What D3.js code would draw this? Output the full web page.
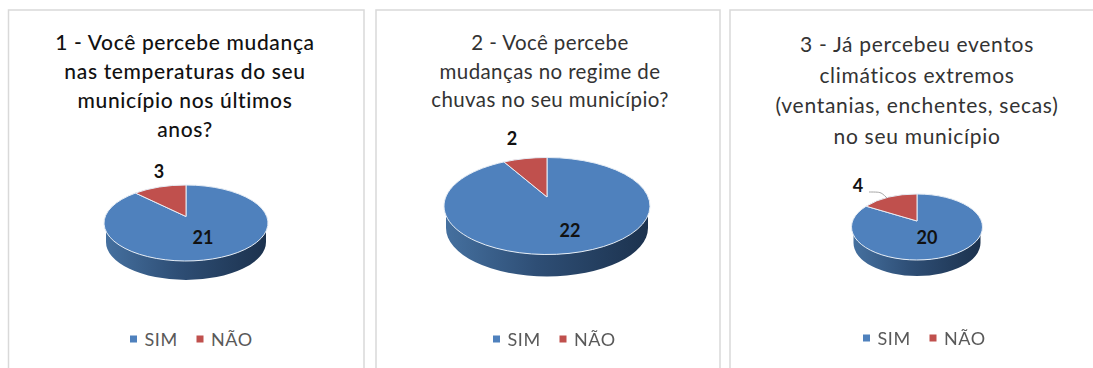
<!DOCTYPE html>
<html>
<head>
<meta charset="utf-8">
<script src="https://cdn.jsdelivr.net/npm/d3@7"></script>
<style>
  html, body { margin: 0; padding: 0; background: #fff; overflow: hidden; }
  svg { display: block; font-family: Lato, sans-serif; filter: blur(0.55px); }
</style>
</head>
<body>
<script>
// Values
const categories = ["SIM", "NÃO"];
const values1 = [21, 3];
const values2 = [22, 2];
const values3 = [20, 4];
const titles1 = ["1 - Você percebe mudança", "nas temperaturas do seu", "município nos últimos", "anos?"];
const titles2 = ["2 - Você percebe", "mudanças no regime de", "chuvas no seu município?"];
const titles3 = ["3 - Já percebeu eventos", "climáticos extremos", "(ventanias, enchentes, secas)", "no seu município"];

const w = 1093;
const h = 368;
const color = d3.scaleOrdinal().domain(categories).range(["#4f81bd", "#c0504d"]);

// Where each panel sits on the page
const panels = [
  { values: values1, titles: titles1, left: 8.5, right: 364, tx: 185, ty: 50, lh: 29, weight: 500, size: 21, spacing: 0.65,
    cx: 186, cy: 223, rx: 82, ry: 38, depth: 19, apex: 6.5,
    labels: [[203, 238], [159, 172]], lx: 130, ly: 339 },
  { values: values2, titles: titles2, left: 376, right: 720, tx: 550, ty: 50, lh: 28.5, weight: 400, size: 20.5, spacing: 0.4,
    cx: 547, cy: 206, rx: 103, ry: 48.5, depth: 22, apex: 9,
    labels: [[570, 231], [512, 139]], lx: 493, ly: 339 },
  { values: values3, titles: titles3, left: 730, right: 1100, tx: 917, ty: 52, lh: 30.5, weight: 400, size: 21, spacing: 0.7,
    cx: 917, cy: 227, rx: 65.5, ry: 33, depth: 16, apex: 6,
    labels: [[927, 238], [858, 186]], lx: 863, ly: 338 }
];

const svg = d3.select("body").append("svg")
  .attr("width", w)
  .attr("height", h)
  .attr("viewBox", [0, 0, w, h]);

const grad = svg.append("defs").append("linearGradient")
  .attr("id", "wall");
grad.append("stop").attr("offset", "0%").attr("stop-color", "#45709f");
grad.append("stop").attr("offset", "45%").attr("stop-color", "#2e4e75");
grad.append("stop").attr("offset", "100%").attr("stop-color", "#1c324e");

const pie = d3.pie().sort(null);

// Excel's 3D pie has its apex above the middle of the ellipse, so each
// slice edge is the ray from the apex out to where it meets the ellipse.
function rim(p, a) {
  const dx = Math.sin(a) * p.rx;
  const dy = -Math.cos(a) * p.ry;
  const A = (dx * dx) / (p.rx * p.rx) + (dy * dy) / (p.ry * p.ry);
  const B = (2 * dy * -p.apex) / (p.ry * p.ry);
  const C = (p.apex * p.apex) / (p.ry * p.ry) - 1;
  const t = (-B + Math.sqrt(B * B - 4 * A * C)) / (2 * A);
  return [p.cx + dx * t, p.cy - p.apex + dy * t];
}

function slicePath(p, d) {
  const a = rim(p, d.startAngle);
  const b = rim(p, d.endAngle);
  const large = d.endAngle - d.startAngle > Math.PI ? 1 : 0;
  return `M${p.cx},${p.cy - p.apex}L${a}A${p.rx},${p.ry} 0 ${large} 1 ${b}Z`;
}

panels.forEach((p) => {
  const g = svg.append("g");

  // Panel border
  g.append("rect")
    .attr("x", p.left)
    .attr("y", 10)
    .attr("width", p.right - p.left)
    .attr("height", h)
    .attr("fill", "#fff")
    .attr("stroke", "#d9d9d9")
    .attr("stroke-width", 1.5);

  // Title
  g.append("g")
    .selectAll("text")
    .data(p.titles)
    .join("text")
    .attr("x", p.tx)
    .attr("y", (d, i) => p.ty + i * p.lh)
    .attr("text-anchor", "middle")
    .attr("font-size", p.size)
    .attr("font-weight", p.weight)
    .attr("letter-spacing", p.spacing)
    .attr("fill", p.weight > 400 ? "#111" : "#333")
    .text((d) => d);

  // Side wall of the pie
  const wr = p.rx - 2;
  g.append("path")
    .attr("d", `M${p.cx - wr},${p.cy}A${wr},${p.ry} 0 0 0 ${p.cx + wr},${p.cy}` +
      `L${p.cx + wr},${p.cy + p.depth}A${wr},${p.ry} 0 0 1 ${p.cx - wr},${p.cy + p.depth}Z`)
    .attr("fill", "url(#wall)");

  // Top of the pie
  g.append("g")
    .selectAll("path")
    .data(pie(p.values))
    .join("path")
    .attr("d", (d) => slicePath(p, d))
    .attr("fill", (d, i) => color(categories[i]))
    .attr("stroke", "#e6edf5")
    .attr("stroke-width", 1);

  // Value labels
  g.append("g")
    .selectAll("text")
    .data(p.values)
    .join("text")
    .attr("x", (d, i) => p.labels[i][0])
    .attr("y", (d, i) => p.labels[i][1] + 6)
    .attr("text-anchor", "middle")
    .attr("font-size", 18)
    .attr("font-weight", 700)
    .attr("fill", "#111")
    .text((d) => d);

  // Legend
  const legend = g.append("g")
    .attr("transform", `translate(${p.lx},${p.ly})`)
    .selectAll("g")
    .data(categories)
    .join("g")
    .attr("transform", (d, i) => `translate(${i * 66.5},0)`);
  legend.append("rect")
    .attr("x", 0)
    .attr("y", -3.5)
    .attr("width", 7)
    .attr("height", 7)
    .attr("fill", (d) => color(d));
  legend.append("text")
    .attr("x", 14.5)
    .attr("y", 6.5)
    .attr("font-size", 18)
    .attr("letter-spacing", 0.6)
    .attr("fill", "#595959")
    .text((d) => d);
});

// Leader line for the "4" label in the third pie
const third = panels[2];
svg.append("path")
  .attr("d", d3.line().curve(d3.curveBasis)([
    [third.labels[1][0] + 11, 192],
    [third.labels[1][0] + 20, 192],
    [third.labels[1][0] + 24, 193],
    [third.labels[1][0] + 29, 198]
  ]))
  .attr("fill", "none")
  .attr("stroke", "#a6a6a6")
  .attr("stroke-width", 1);
</script>
</body>
</html>
